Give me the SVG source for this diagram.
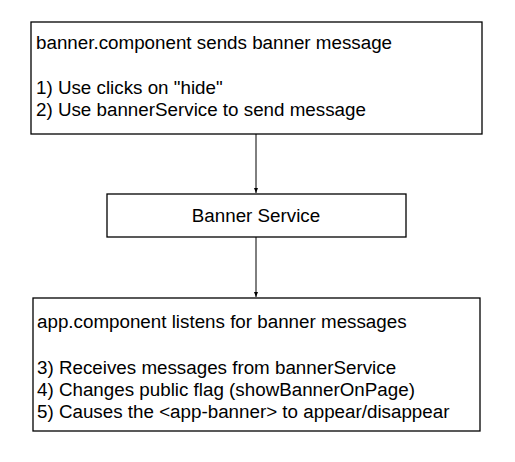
<svg xmlns="http://www.w3.org/2000/svg" width="515" height="462" viewBox="0 0 515 462">
<style>
.box{fill:#fff;stroke:#000;stroke-width:1.3}
.t{font-family:"Liberation Sans",Arial,sans-serif;font-size:18.8px;fill:#000}
.c{stroke:#000;stroke-width:1;fill:none}
</style>
<defs>
<marker id="ah" markerWidth="6" markerHeight="6" refX="5" refY="3" orient="auto" markerUnits="userSpaceOnUse">
<path d="M0,1 L5,3 L0,5 Z" fill="#000"/>
</marker>
</defs>
<rect width="515" height="462" fill="#fff"/>
<g id="connectors">
<line class="c" x1="256" y1="134" x2="256" y2="193" marker-end="url(#ah)"/>
<line class="c" x1="256" y1="237" x2="256" y2="297" marker-end="url(#ah)"/>
</g>
<g id="node-banner-component">
<rect class="box" x="31" y="22" width="451" height="112"/>
<text class="t" x="36" y="49">banner.component sends banner message</text>
<text class="t" x="36" y="94">1) Use clicks on "hide"</text>
<text class="t" x="36" y="116">2) Use bannerService to send message</text>
</g>
<g id="node-banner-service">
<rect class="box" x="107" y="194" width="299" height="43"/>
<text class="t" x="256" y="222" text-anchor="middle">Banner Service</text>
</g>
<g id="node-app-component">
<rect class="box" x="33" y="298" width="447" height="133"/>
<text class="t" x="37" y="328">app.component listens for banner messages</text>
<text class="t" x="37" y="374">3) Receives messages from bannerService</text>
<text class="t" x="37" y="396">4) Changes public flag (showBannerOnPage)</text>
<text class="t" x="37" y="418">5) Causes the &lt;app-banner&gt; to appear/disappear</text>
</g>
</svg>
